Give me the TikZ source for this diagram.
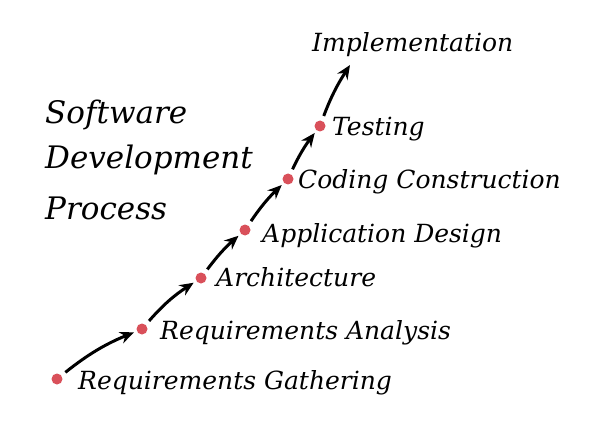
\documentclass[tikz,border=0pt]{standalone}
\usepackage{fontspec}
\setmainfont{DejaVu Serif}
\usetikzlibrary{arrows.meta}
\definecolor{dotred}{HTML}{D9505A}
\begin{document}
\begin{tikzpicture}[x=1pt,y=-1pt,
  dot/.style={circle,fill=dotred,draw=none,minimum size=11pt,inner sep=0pt},
  lbl/.style={anchor=west,inner sep=0pt,font=\fontsize{25}{30}\selectfont\itshape},
  ttl/.style={anchor=west,inner sep=0pt,font=\fontsize{31}{36}\selectfont\itshape},
  arr/.style={-{Stealth[length=14pt,width=12pt]},line width=3pt,shorten >=3pt,shorten <=5pt}]
\useasboundingbox (0,0) rectangle (600,441);
\node[dot] (d1) at (57,379) {};
\node[dot] (d2) at (142,329) {};
\node[dot] (d3) at (201,278) {};
\node[dot] (d4) at (245,230) {};
\node[dot] (d5) at (288,179) {};
\node[dot] (d6) at (320,126) {};
\coordinate (end) at (350,65);
\draw[arr] (d1) to[bend left=8] (d2);
\draw[arr] (d2) to[bend left=8] (d3);
\draw[arr] (d3) to[bend left=6] (d4);
\draw[arr] (d4) to[bend left=6] (d5);
\draw[arr] (d5) to[bend left=6] (d6);
\draw[arr,shorten >=0pt] (d6) to[bend left=6] (end);
\node[lbl] (t1) at (78,383) {Requirements Gathering};
\node[lbl] (t2) at (160,333) {Requirements Analysis};
\node[lbl] (t3) at (216,277) {Architecture};
\node[lbl] (t4) at (262,236) {Application Design};
\node[lbl] (t5) at (298,182) {Coding Construction};
\node[lbl] (t6) at (332,129) {Testing};
\node[lbl] (t7) at (312,45) {Implementation};
\node[ttl] (h1) at (45,115) {Software};
\node[ttl] (h2) at (45,160) {Development};
\node[ttl] (h3) at (45,208) {Process};
\end{tikzpicture}
\end{document}
